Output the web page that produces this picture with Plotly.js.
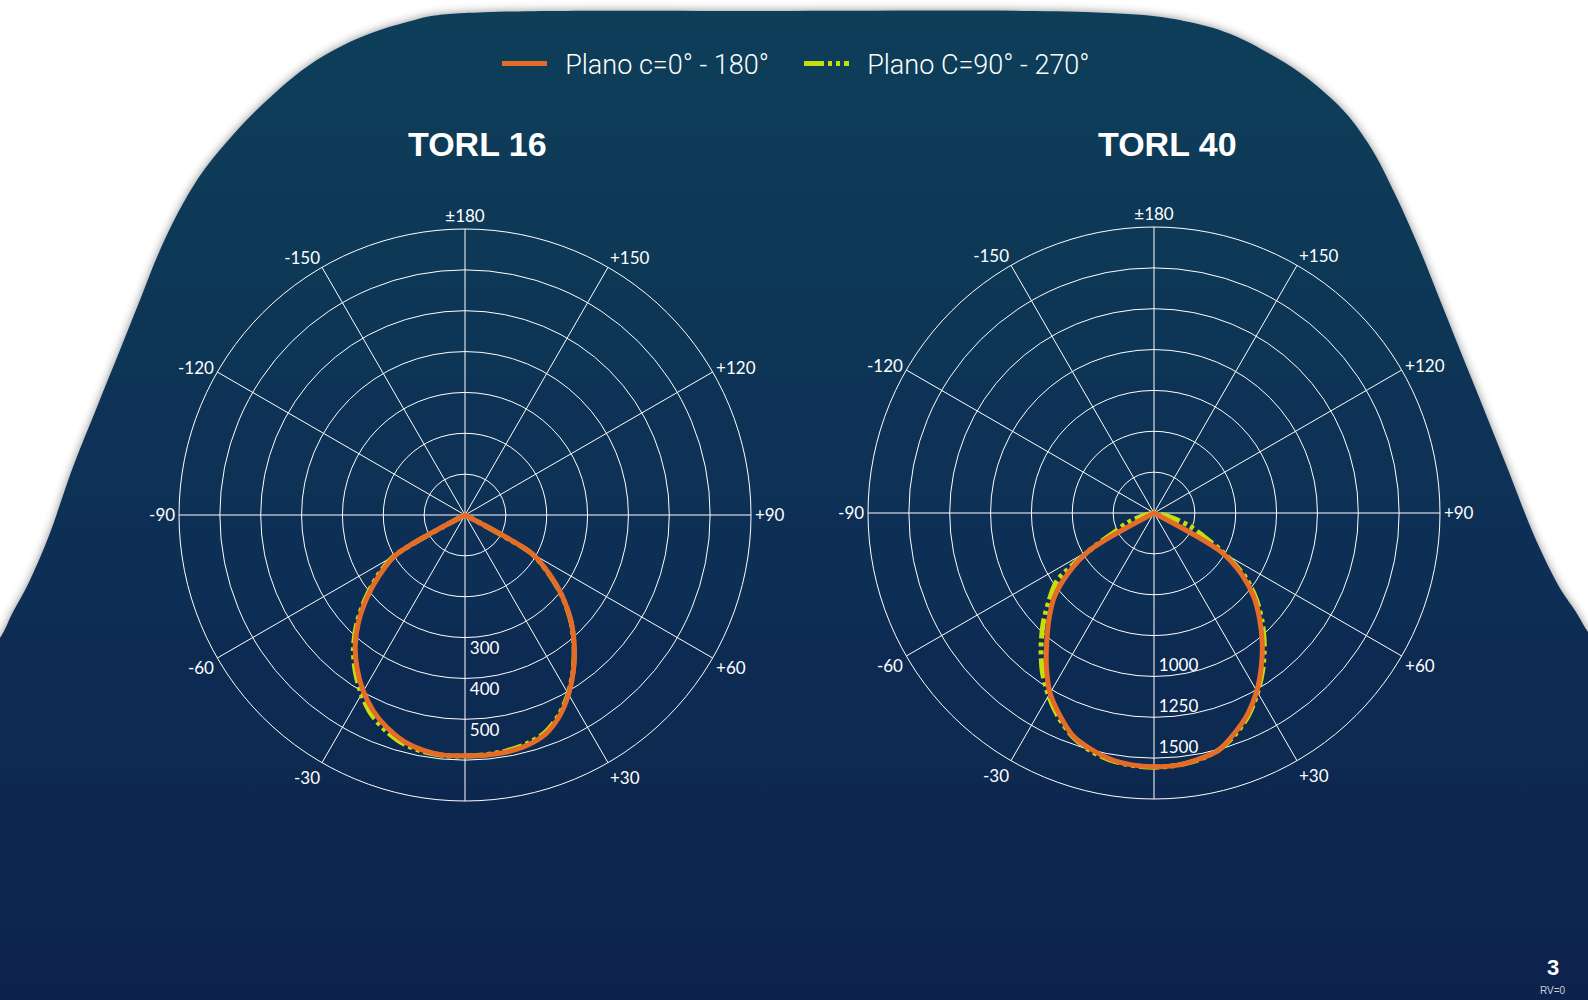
<!DOCTYPE html>
<html>
<head>
<meta charset="utf-8">
<script src="https://cdn.plot.ly/plotly-3.0.1.min.js"></script>
<style>
  html, body { margin: 0; padding: 0; background: #ffffff; }
  #wrap { position: relative; width: 1588px; height: 1000px; overflow: hidden; }
  #bg { position: absolute; left: 0; top: 0; }
  #chart { position: absolute; left: 0; top: 0; width: 1588px; height: 1000px; }
</style>
</head>
<body>
<div id="wrap">
  <svg id="bg" width="1588" height="1000" xmlns="http://www.w3.org/2000/svg">
    <defs>
      <linearGradient id="navy" x1="0" y1="0" x2="0" y2="1">
        <stop offset="0" stop-color="#0f3f59"/>
        <stop offset="0.5" stop-color="#0f2f55"/>
        <stop offset="1" stop-color="#10224c"/>
      </linearGradient>
      <filter id="shadow" x="-5%" y="-5%" width="110%" height="110%">
        <feDropShadow dx="0" dy="0" stdDeviation="5" flood-color="#000" flood-opacity="0.45"/>
      </filter>
    </defs>
    <path id="shape" fill="url(#navy)" filter="url(#shadow)"/>
  </svg>
  <div id="chart"></div>
</div>
<script>
// ---- background outline (decoration only) ----
var outline = [[-30,680],[0,638],[12,614],[30,580],[50,533],[73,467],[97,407],[120,350],[140,300],[160,250],[185,200],[214,157],[265,102],[325,55],[400,24],[490,12],[790,11],[1085,12],[1202,25],[1277,58],[1333,100],[1368,143],[1396,196],[1420,250],[1440,300],[1460,350],[1483,407],[1507,467],[1533,533],[1557,583],[1576,612],[1588,632],[1620,680]];
(function(){
  var p = outline, d = 'M-40,1040 L' + p[0][0] + ',' + p[0][1];
  for (var i = 0; i < p.length - 1; i++) {
    var p0 = p[i-1] || p[i], p1 = p[i], p2 = p[i+1], p3 = p[i+2] || p[i+1];
    var c1x = p1[0] + (p2[0]-p0[0])/6, c1y = p1[1] + (p2[1]-p0[1])/6;
    var c2x = p2[0] - (p3[0]-p1[0])/6, c2y = p2[1] - (p3[1]-p1[1])/6;
    d += ' C' + c1x + ',' + c1y + ' ' + c2x + ',' + c2y + ' ' + p2[0] + ',' + p2[1];
  }
  d += ' L1630,1040 Z';
  document.getElementById('shape').setAttribute('d', d);
})();

// ---- data ----
var gammaAngles = [-90,-85,-80,-75,-70,-65,-60,-55,-50,-45,-40,-35,-30,-25,-20,-15,-10,-5,0,5,10,15,20,25,30,35,40,45,50,55,60,65,70,75,80,85,90];

var torl16_C0   = [0,0,0,0,0,0,195,255,312,368,418,460,498,530,555,574,585,590,589,590,589,584,572,545,507,463,416,367,312,252,190,0,0,0,0,0,0];
var torl16_C90  = [0,0,0,0,0,0,200,262,318,374,425,468,507,540,563,580,588,591,590,589,586,580,568,542,505,462,415,366,311,250,188,0,0,0,0,0,0];

var torl40_C0   = [0,0,0,0,0,0,450,640,794,907,1020,1148,1272,1365,1450,1495,1530,1547,1552,1550,1532,1507,1436,1357,1258,1145,1030,913,797,655,470,0,0,0,0,0,0];
var torl40_C90  = [0,0,20,80,170,250,450,725,840,960,1075,1190,1290,1380,1455,1505,1535,1550,1555,1550,1535,1505,1445,1368,1268,1162,1050,935,815,680,500,330,230,120,40,5,0];

var seriesNames = ['Plano c=0° - 180°', 'Plano C=90° - 270°'];
var chartTitles = ['TORL 16', 'TORL 40'];

var angTickVals = [0,30,60,90,120,150,180,210,240,270,300,330];
var angTickText = ['', '+30', '+60', '+90', '+120', '+150', '±180', '-150', '-120', '-90', '-60', '-30'];

var rad16Vals = [100,200,300,400,500,600,700];
var rad16Text = ['', '', '300', '400', '500', '', ''];
var rad40Vals = [250,500,750,1000,1250,1500,1750];
var rad40Text = ['', '', '', '1000', '1250', '1500', ''];

// ---- style ----
var ORANGE = '#e56c28';
var GREEN = '#c5df0e';
var greenDash = '20px,4px,4px,4px,4px,4px';
var labelFont = {family: 'Lato, "Open Sans", sans-serif', size: 17, color: '#ffffff'};
var NB = '\u00A0';

function curve(vals, sub, isC0, showLeg) {
  return {
    type: 'scatterpolar', mode: 'lines',
    r: vals, theta: gammaAngles, subplot: sub,
    name: NB + NB + (isC0 ? seriesNames[0] : seriesNames[1]),
    legendrank: isC0 ? 1 : 2,
    showlegend: showLeg,
    line: isC0 ? {color: ORANGE, width: 5, shape: 'spline', smoothing: 0.8}
               : {color: GREEN, width: 5, dash: greenDash, shape: 'spline', smoothing: 0.8},
    hoverinfo: 'skip'
  };
}

var data = [
  curve(torl16_C90, 'polar', false, true),
  curve(torl16_C0, 'polar', true, true),
  curve(torl40_C90, 'polar2', false, false),
  curve(torl40_C0, 'polar2', true, false)
];

// radial labels sit to the right of the axis; left chart just below each ring, right chart just above
function radLabels(txt, below) {
  return txt.map(function (t) {
    if (!t) return '';
    var s = NB + t;
    return below ? (NB + '<br>' + s) : (s + '<br>' + NB);
  });
}

function polarLayout(dx, dy, range, rv, rt) {
  return {
    domain: {x: dx, y: dy},
    bgcolor: 'rgba(0,0,0,0)',
    angularaxis: {
      rotation: -90, direction: 'counterclockwise',
      tickmode: 'array', tickvals: angTickVals, ticktext: angTickText,
      showline: true, linecolor: '#ffffff', linewidth: 1,
      gridcolor: '#ffffff', gridwidth: 1, ticks: '',
      tickfont: labelFont, layer: 'below traces'
    },
    radialaxis: {
      range: range, tickmode: 'array', tickvals: rv, ticktext: rt,
      angle: -90, side: 'counterclockwise', showline: false, ticks: '',
      tickangle: -90,
      gridcolor: '#ffffff', gridwidth: 1,
      tickfont: labelFont, layer: 'below traces'
    }
  };
}

var W = 1588, H = 1000;
var layout = {
  width: W, height: H,
  margin: {l: 0, r: 0, t: 0, b: 0, pad: 0},
  paper_bgcolor: 'rgba(0,0,0,0)', plot_bgcolor: 'rgba(0,0,0,0)',
  showlegend: true,
  legend: {
    orientation: 'h', x: 497 / W, xanchor: 'left', y: 1 - 64 / H, yanchor: 'middle',
    font: {family: 'Roboto, "Liberation Sans", sans-serif', size: 27, color: '#ffffff', weight: 300},
    bgcolor: 'rgba(0,0,0,0)', itemwidth: 45, traceorder: 'normal',
    entrywidth: 242, entrywidthmode: 'pixels'
  },
  polar: polarLayout([179 / W, 751 / W], [0.199, 0.771], [0, 700], rad16Vals, radLabels(rad16Text, true)),
  polar2: polarLayout([868 / W, 1440 / W], [0.201, 0.773], [0, 1750], rad40Vals, radLabels(rad40Text, false)),
  annotations: [
    {text: chartTitles[0], x: 477 / W, y: 1 - 144 / H, xref: 'paper', yref: 'paper', showarrow: false,
     xanchor: 'center', yanchor: 'middle', font: {family: '"Liberation Sans", Arial, sans-serif', size: 34, color: '#ffffff', weight: 700}},
    {text: chartTitles[1], x: 1167 / W, y: 1 - 144 / H, xref: 'paper', yref: 'paper', showarrow: false,
     xanchor: 'center', yanchor: 'middle', font: {family: '"Liberation Sans", Arial, sans-serif', size: 34, color: '#ffffff', weight: 700}},
    {text: '3', x: 1553 / W, y: 1 - 967 / H, xref: 'paper', yref: 'paper', showarrow: false,
     xanchor: 'center', yanchor: 'middle', font: {family: '"Liberation Sans", Arial, sans-serif', size: 22, color: '#ffffff', weight: 700}},
    {text: 'RV=0', x: 1553 / W, y: 1 - 990 / H, xref: 'paper', yref: 'paper', showarrow: false,
     xanchor: 'center', yanchor: 'middle', font: {family: '"Liberation Sans", Arial, sans-serif', size: 10, color: '#c9ccd6'}}
  ]
};

Plotly.newPlot('chart', data, layout, {staticPlot: true, displayModeBar: false});
</script>
</body>
</html>
